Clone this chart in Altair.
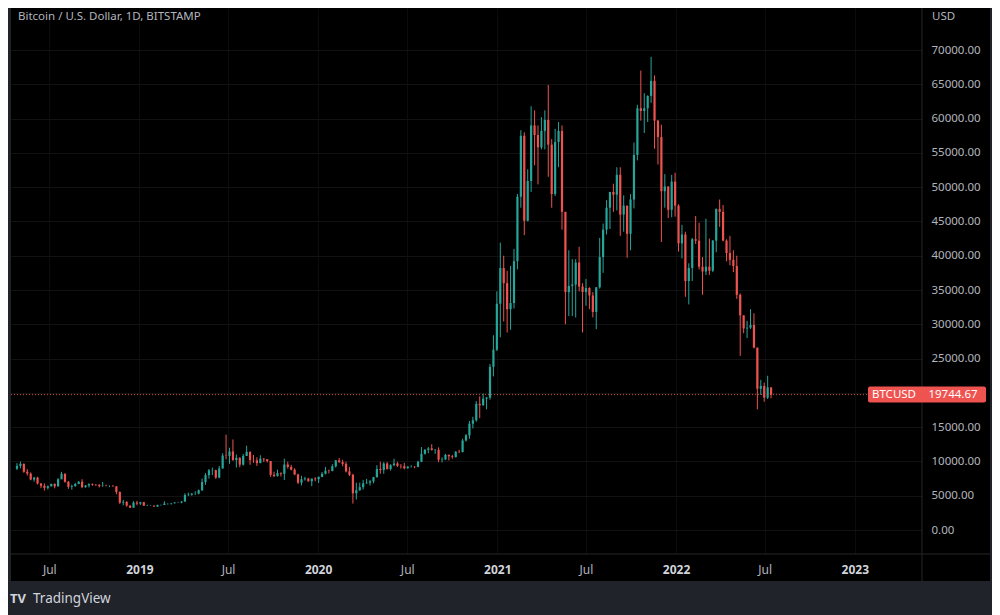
import altair as alt
import pandas as pd

# Weekly candles (open, high, low, close), week starting Monday 2018-04-23
ohlc_2018 = [
    (8930, 9750, 8740, 9350), (9350, 9990, 8980, 9650), (9650, 9700, 8350, 8500), (8500, 8880, 7940, 8230),
    (8230, 8400, 7250, 7350), (7350, 7750, 7050, 7640), (7640, 7760, 6650, 6770), (6770, 6850, 6100, 6450),
    (6450, 6800, 5750, 6150), (6150, 6500, 5900, 6380), (6380, 6750, 6350, 6720), (6720, 6800, 6080, 6360),
    (6360, 7550, 6340, 7400), (7400, 8480, 7400, 8200), (8200, 8270, 6900, 7030), (7030, 7150, 6000, 6300),
    (6300, 6620, 5880, 6400), (6400, 6880, 6300, 6700), (6700, 7150, 6680, 7030), (7030, 7400, 6100, 6250),
    (6250, 6550, 6150, 6500), (6500, 6800, 6200, 6700), (6700, 6800, 6450, 6600), (6600, 6700, 6450, 6550),
    (6550, 6700, 6200, 6400), (6400, 7000, 6300, 6450), (6450, 6600, 6400, 6400), (6400, 6500, 6250, 6400),
    (6400, 6560, 6350, 6350), (6350, 6400, 5200, 5550), (5550, 5620, 3800, 4000), (4000, 4400, 3600, 4100),
    (4100, 4200, 3400, 3550), (3550, 3600, 3220, 3250), (3250, 4200, 3250, 4000), (4000, 4250, 3600, 3850),
]
ohlc_2019 = [
    (3850, 4100, 3650, 4050), (4050, 4100, 3550, 3550), (3550, 3700, 3500, 3550), (3550, 3650, 3520, 3550),
    (3550, 3580, 3380, 3420), (3420, 3700, 3380, 3650), (3650, 3700, 3550, 3650), (3650, 4200, 3650, 3850),
    (3850, 3900, 3700, 3850), (3850, 3950, 3700, 3900), (3900, 4050, 3850, 4000), (4000, 4100, 3950, 4000),
    (4000, 4200, 3900, 4150), (4150, 5350, 4100, 5100), (5100, 5450, 4950, 5150), (5150, 5400, 5000, 5300),
    (5300, 5650, 5100, 5300), (5300, 5900, 5200, 5800), (5800, 7500, 5700, 7000), (7000, 8300, 6600, 8000),
    (8000, 8900, 7500, 8700), (8700, 9100, 8000, 8730), (8730, 8800, 7450, 7650), (7650, 9350, 7550, 8970),
    (8970, 11200, 8950, 10850), (10850, 13900, 10300, 10800), (10800, 12000, 9650, 11450), (11450, 13200, 10100, 10200),
    (10200, 11000, 9100, 10530), (10530, 10600, 9150, 9530), (9530, 11100, 9400, 10800), (10800, 12300, 10800, 11400),
    (11400, 11450, 9500, 10200), (10200, 10950, 9800, 10150), (10150, 10600, 9350, 9750), (9750, 10900, 9750, 10400),
    (10400, 10500, 9900, 10300), (10300, 10300, 9850, 10050), (10050, 10050, 7750, 8050), (8050, 8500, 7750, 7850),
    (7850, 8800, 7800, 8300), (8300, 8400, 7800, 8200), (8200, 10400, 7300, 9550), (9550, 9950, 8950, 9200),
    (9200, 9500, 8700, 8800), (8800, 9000, 8000, 8100), (8100, 8200, 6700, 6900), (6900, 7900, 6500, 7400),
    (7400, 7750, 7200, 7500), (7500, 7600, 7050, 7100), (7100, 7500, 6400, 7500), (7500, 7700, 7100, 7400),
]
ohlc_2020 = [
    (7400, 7800, 6850, 7750), (7750, 8450, 7700, 8200), (8200, 9200, 8100, 8650), (8650, 8800, 8250, 8600),
    (8600, 9600, 8550, 9300), (9300, 10200, 9100, 10150), (10150, 10500, 9800, 9900), (9900, 10250, 9300, 9650),
    (9650, 9950, 8400, 8550), (8550, 9200, 7900, 8050), (8050, 8200, 3850, 5350), (5350, 6900, 4450, 5800),
    (5800, 6900, 5700, 6250), (6250, 7300, 5900, 6800), (6800, 7450, 6750, 6900), (6900, 7300, 6500, 7100),
    (7100, 7750, 6800, 7700), (7700, 9450, 7650, 8900), (8900, 9950, 8200, 8750), (8750, 9900, 8200, 9700),
    (9700, 9900, 8800, 8900), (8900, 9600, 8650, 9450), (9450, 10400, 9300, 9700), (9700, 9950, 9200, 9350),
    (9350, 9600, 8950, 9300), (9300, 9800, 8850, 9000), (9000, 9300, 8950, 9250), (9250, 9450, 9100, 9250),
    (9250, 9300, 9000, 9200), (9200, 10100, 9150, 9950), (9950, 12100, 9900, 11100), (11100, 11800, 11000, 11700),
    (11700, 12100, 11200, 11900), (11900, 12500, 11600, 11650), (11650, 11800, 11100, 11700), (11700, 12050, 9900, 10250),
    (10250, 10600, 9850, 10300), (10300, 11100, 10200, 10950), (10950, 11000, 10150, 10750), (10750, 10950, 10400, 10650),
    (10650, 11500, 10550, 11400), (11400, 11700, 11200, 11350), (11350, 13300, 11350, 13050), (13050, 14000, 12900, 13800),
    (13800, 15900, 13300, 15500), (15500, 16500, 14800, 16000), (16000, 18800, 15800, 18400), (18400, 19500, 16300, 18200),
    (18200, 19900, 18100, 19150), (19150, 19400, 17600, 19300), (19300, 24200, 19000, 23800), (23800, 28400, 22400, 26300),
]
ohlc_2021 = [
    (26300, 34800, 26100, 33000), (33000, 41900, 28100, 38200), (38200, 40000, 30400, 36000), (36000, 37800, 28800, 32200),
    (32200, 38500, 29200, 33100), (33100, 41000, 32300, 39200), (39200, 49000, 38000, 48600), (48600, 58300, 47000, 57500),
    (57500, 58000, 43000, 45100), (45100, 52600, 45000, 50900), (50900, 61800, 49300, 59000), (59000, 61200, 53200, 57600),
    (57600, 59000, 50400, 55800), (55800, 60200, 55500, 58200), (58200, 61200, 55500, 59800), (59800, 64900, 51500, 56200),
    (56200, 57000, 47000, 49000), (49000, 58500, 48700, 56600), (56600, 59500, 52900, 58200), (58200, 59000, 43800, 46400),
    (46400, 46400, 30000, 34700), (34700, 40800, 31200, 35600), (35600, 39500, 31200, 35800), (35800, 39500, 31000, 39000),
    (39000, 41300, 34800, 35500), (35500, 36000, 28800, 34700), (34700, 36600, 32700, 35300), (35300, 35400, 32200, 34200),
    (34200, 34700, 31000, 31800), (31800, 35400, 29300, 35400), (35400, 42600, 35200, 39800), (39800, 44700, 37500, 43800),
    (43800, 48100, 43100, 47000), (47000, 49300, 43900, 49300), (49300, 50500, 46400, 48900), (48900, 52900, 46600, 51800),
    (51800, 52900, 42900, 46000), (46000, 48800, 43500, 47300), (47300, 47300, 39700, 43200), (43200, 49000, 40800, 48200),
    (48200, 56500, 46900, 54700), (54700, 62000, 53900, 61500), (61500, 67000, 59700, 61100), (61100, 63700, 57900, 61500),
    (61500, 63400, 59500, 63300), (63300, 69000, 62300, 65500), (65500, 66300, 55600, 59700), (59700, 59800, 53300, 57300),
    (57300, 59100, 42000, 49400), (49400, 51900, 47000, 50100), (50100, 50100, 45500, 46700), (46700, 51800, 45600, 50800),
]
ohlc_2022 = [
    (50800, 52100, 45700, 47300), (47300, 47500, 40600, 41800), (41800, 44500, 39600, 43100), (43100, 43500, 34000, 36300),
    (36300, 38900, 32900, 38200), (38200, 42600, 36300, 42400), (42400, 45800, 41700, 42200), (42200, 44800, 38000, 38400),
    (38400, 39800, 34300, 37700), (37700, 45400, 37200, 38400), (38400, 42500, 37200, 37800), (37800, 42300, 37600, 42200),
    (42200, 46900, 40500, 46800), (46800, 48200, 44200, 46400), (46400, 47400, 42100, 42200), (42200, 42400, 39200, 40400),
    (40400, 42900, 38600, 39400), (39400, 40800, 37600, 38500), (38500, 40000, 33700, 34300), (34300, 34500, 25400, 31300),
    (31300, 31300, 28700, 29400), (29400, 30500, 28000, 29500), (29500, 32200, 29300, 29900), (29900, 31600, 26500, 26600),
    (26600, 26600, 17600, 20600), (20600, 21900, 19700, 21000), (21000, 21500, 18700, 19300), (19300, 22500, 19100, 20800),
    (20800, 20800, 19200, 19744.67),
]
first_week = "2018-04-23"
last_price = 19744.67
price_ticks = list(range(0, 70001, 5000))
time_ticks = [(2018, 7), (2019, 1), (2019, 7), (2020, 1), (2020, 7), (2021, 1),
              (2021, 7), (2022, 1), (2022, 7), (2023, 1)]
title_text = "Bitcoin / U.S. Dollar, 1D, BITSTAMP"
symbol = "BTCUSD"

rows = ohlc_2018 + ohlc_2019 + ohlc_2020 + ohlc_2021 + ohlc_2022
weeks = pd.date_range(first_week, periods=len(rows), freq="7D") + pd.Timedelta(days=3)
df = pd.DataFrame(rows, columns=["open", "high", "low", "close"])
df["t"] = weeks
df["up"] = df["close"] >= df["open"]

UP, DOWN = "#26a69a", "#ef5350"
FRAME = "#202329"
TXT = "#b2b5be"
FONT = "Noto Sans"
W, H = 911, 546

xscale = alt.Scale(domain=[alt.DateTime(year=2018, month=4, date=24),
                           alt.DateTime(year=2023, month=5, date=8)])
yscale = alt.Scale(domain=[-3500, 76125], nice=False, zero=False)

xaxis = alt.Axis(
    values=[alt.DateTime(year=y, month=m, date=1) for y, m in time_ticks],
    labelExpr="month(datum.value) == 0 ? timeFormat(datum.value, '%Y') : 'Jul'",
    ticks=False, domain=False, grid=True, gridColor="#0c0c0c", title=None,
    labelPadding=15, labelBaseline="middle", labelFont=FONT, labelFontSize=12,
    labelColor={"condition": {"test": "month(datum.value) == 0", "value": "#d1d4dc"}, "value": TXT},
    labelFontWeight={"condition": {"test": "month(datum.value) == 0", "value": "bold"}, "value": "normal"},
    labelOverlap=False, labelFlush=False,
)
yaxis = alt.Axis(
    values=price_ticks,
    labelExpr="datum.value == 20000 ? '' : format(datum.value, '.2f')",
    orient="right", ticks=False, domain=False,
    grid=True, gridColor="#121212", title=None, labelPadding=9, labelAlign="left",
    labelBaseline="middle", labelFont=FONT, labelFontSize=11.5, labelColor=TXT,
)

color = alt.condition(alt.datum.up, alt.value(UP), alt.value(DOWN))
base = alt.Chart(df)
wicks = base.mark_rule(strokeWidth=1).encode(
    x=alt.X("t:T", scale=xscale, axis=xaxis),
    y=alt.Y("low:Q", scale=yscale, axis=yaxis),
    y2="high:Q",
    color=color,
)
bodies = base.mark_bar(size=2.2).encode(
    x=alt.X("t:T", scale=xscale, axis=xaxis),
    y=alt.Y("open:Q", scale=yscale, axis=yaxis),
    y2="close:Q",
    color=color,
)

one = alt.Data(values=[{"price": last_price}])
pc = alt.Chart(one)
price_line = pc.mark_rule(strokeDash=[1, 2], color=DOWN, opacity=0.9).encode(
    x=alt.value(0), x2=alt.value(W), y=alt.Y("price:Q", scale=yscale, axis=yaxis))
price_box = pc.mark_rect(color="#ef5350", cornerRadius=2, yOffset=-8, y2Offset=8).encode(
    x=alt.value(857), x2=alt.value(975),
    y=alt.Y("price:Q", scale=yscale, axis=yaxis), y2="price:Q")
sym_text = pc.mark_text(text=symbol, color="white", font=FONT, fontSize=11.5, baseline="middle").encode(
    x=alt.value(883), y=alt.Y("price:Q", scale=yscale, axis=yaxis))
price_text = pc.mark_text(color="white", font=FONT, fontSize=11.5, baseline="middle").encode(
    x=alt.value(942), y=alt.Y("price:Q", scale=yscale, axis=yaxis),
    text=alt.Text("price:Q", format=".2f"))

deco = alt.Chart(alt.Data(values=[{}]))
sep_v = deco.mark_rule(color="#262626").encode(x=alt.value(W), y=alt.value(0), y2=alt.value(573))
sep_h = deco.mark_rule(color="#262626").encode(x=alt.value(0), x2=alt.value(979), y=alt.value(H))
frames = [
    deco.mark_rect(color=FRAME).encode(x=alt.value(-3), x2=alt.value(0), y=alt.value(0), y2=alt.value(607)),
    deco.mark_rect(color=FRAME).encode(x=alt.value(979), x2=alt.value(981), y=alt.value(0), y2=alt.value(607)),
    deco.mark_rect(color=FRAME).encode(x=alt.value(-3), x2=alt.value(981), y=alt.value(573), y2=alt.value(607)),
]
title = deco.mark_text(text=title_text, align="left", baseline="middle", font=FONT,
                       fontSize=11.5, color=TXT).encode(x=alt.value(7), y=alt.value(9))
usd = deco.mark_text(text="USD", align="left", baseline="middle", font=FONT,
                     fontSize=11.5, color=TXT).encode(x=alt.value(921), y=alt.value(9))
logo = deco.mark_text(text="TV", align="left", baseline="middle", font=FONT, fontWeight="bold",
                      fontSize=13, color="#d1d4dc").encode(x=alt.value(-1), y=alt.value(591))
brand = deco.mark_text(text="TradingView", align="left", baseline="middle", font=FONT,
                       fontSize=13.5, color="#d1d4dc").encode(x=alt.value(22), y=alt.value(591))

chart = alt.layer(
    wicks, bodies, price_line, sep_v, sep_h, *frames, price_box, sym_text, price_text,
    title, usd, logo, brand,
).properties(
    width=W, height=H,
    padding={"left": 3, "top": 0, "right": 70, "bottom": 61},
    autosize=alt.AutoSizeParams(type="none"),
).configure(background="#000000").configure_view(stroke=None)

chart.save("out.html", embed_options={"renderer": "svg", "actions": False})
